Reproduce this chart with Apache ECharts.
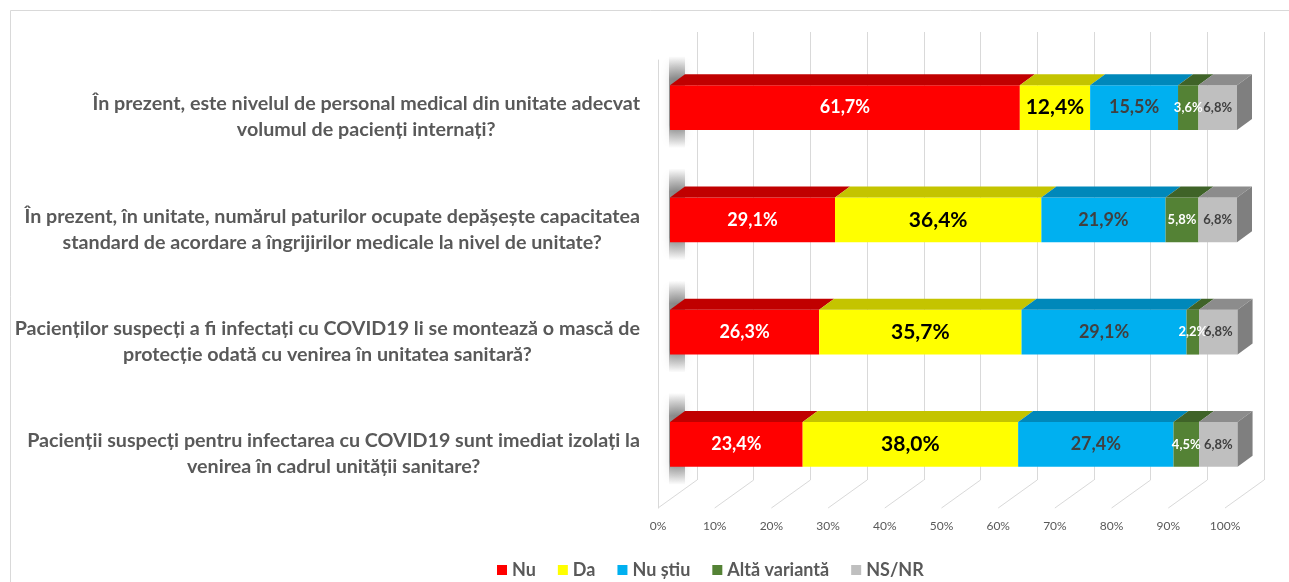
<!DOCTYPE html>
<html>
<head>
<meta charset="utf-8">
<script src="https://cdn.jsdelivr.net/npm/echarts@6/dist/echarts.min.js"></script>
<style>
  html, body { margin: 0; padding: 0; background: #fff; }
  #chart { width: 1289px; height: 582px; }
</style>
</head>
<body>
<div id="chart"></div>
<script>
// intrebari (categorii), de sus in jos
const categories = [
  'În prezent, este nivelul de personal medical din unitate adecvat\nvolumul de pacienți internați?',
  'În prezent, în unitate, numărul paturilor ocupate depășește capacitatea\nstandard de acordare a îngrijirilor medicale la nivel de unitate?',
  'Pacienților suspecți a fi infectați cu COVID19 li se montează o mască de\nprotecție odată cu venirea în unitatea sanitară?',
  'Pacienții suspecți pentru infectarea cu COVID19 sunt imediat izolați la\nvenirea în cadrul unității sanitare?'
];
const seriesNames = ['Nu', 'Da', 'Nu știu', 'Altă variantă', 'NS/NR'];
const nu = [61.7, 29.1, 26.3, 23.4];
const da = [12.4, 36.4, 35.7, 38.0];
const nuStiu = [15.5, 21.9, 29.1, 27.4];
const alta = [3.6, 5.8, 2.2, 4.5];
const nsnr = [6.8, 6.8, 6.8, 6.8];
const tickValues = [0, 10, 20, 30, 40, 50, 60, 70, 80, 90, 100];

const values = [nu, da, nuStiu, alta, nsnr];
const frontColors = ['#FF0000', '#FFFF00', '#00B0F0', '#548235', '#BFBFBF'];
const topColors = ['#C00000', '#C4C400', '#0088BA', '#3F6328', '#8C8C8C'];
const labelColors = ['#FFFFFF', '#000000', '#404040', '#FFFFFF', '#404040'];
const labelSizes = [18, 21, 18, 13, 13];
const DX = 15, DY = 11; // adancimea 3D a barelor
const FONT = 'Lato, "Noto Sans", sans-serif';

const chart = echarts.init(document.getElementById('chart'));

function fmt(v) {
  return v.toFixed(1).replace('.', ',') + '%';
}

const shadowFill = new echarts.graphic.LinearGradient(0, 0, 0, 1, [
  { offset: 0, color: 'rgba(0,0,0,0)' },
  { offset: 0.25, color: 'rgba(0,0,0,0.4)' },
  { offset: 0.75, color: 'rgba(0,0,0,0.4)' },
  { offset: 1, color: 'rgba(0,0,0,0)' }
]);

function makeBarRender(si) {
  return function (params, api) {
    const cat = api.value(0), s = api.value(1), e = api.value(2), v = api.value(3);
    const p0 = api.coord([s, cat]);
    const p1 = api.coord([e, cat]);
    const h = api.size([0, 1])[1] * 0.4;
    const x0 = p0[0], x1 = p1[0];
    const yT = p0[1] - h / 2, yB = p0[1] + h / 2;
    const children = [];
    if (si === 0) {
      // umbra pe peretele din stanga
      children.push({
        type: 'rect',
        shape: { x: x0 - 1, y: yT - DY - 18, width: DX + 1, height: h + DY + 36 },
        style: { fill: shadowFill, shadowBlur: 8, shadowColor: 'rgba(0,0,0,0.3)' },
        z2: 0
      });
    }
    children.push({
      type: 'rect',
      shape: { x: x0, y: yT, width: x1 - x0, height: yB - yT },
      style: { fill: frontColors[si] },
      z2: 5
    });
    children.push({
      type: 'polygon',
      shape: { points: [[x0, yT], [x0 + DX, yT - DY], [x1 + DX, yT - DY], [x1, yT]] },
      style: { fill: topColors[si] },
      z2: 5
    });
    if (si === values.length - 1) {
      children.push({
        type: 'polygon',
        shape: { points: [[x1, yT], [x1 + DX, yT - DY], [x1 + DX, yB - DY], [x1, yB]] },
        style: { fill: '#7F7F7F' },
        z2: 5
      });
    }
    children.push({
      type: 'text',
      style: {
        x: (x0 + x1) / 2, y: (yT + yB) / 2,
        text: fmt(v),
        align: 'center', verticalAlign: 'middle',
        fill: labelColors[si],
        font: 'bold ' + labelSizes[si] + 'px ' + FONT
      },
      z2: 100
    });
    return { type: 'group', children: children };
  };
}

const barSeries = values.map(function (arr, si) {
  const data = arr.map(function (v, r) {
    let start = 0;
    for (let k = 0; k < si; k++) start += values[k][r];
    return [r, start, start + v, v];
  });
  return {
    name: seriesNames[si],
    type: 'custom',
    xAxisIndex: 0,
    yAxisIndex: 0,
    itemStyle: { color: frontColors[si] },
    encode: { x: [1, 2], y: 0 },
    renderItem: makeBarRender(si),
    data: data
  };
});

// liniile diagonale ale podelei (de la marginea din fata spre peretele din spate)
const floorSeries = {
  type: 'custom',
  xAxisIndex: 1,
  yAxisIndex: 1,
  silent: true,
  renderItem: function (params, api) {
    const p = api.coord([api.value(0), 0]);
    return {
      type: 'line',
      shape: { x1: p[0], y1: p[1], x2: p[0] + 39, y2: p[1] - 28 },
      style: { stroke: '#D9D9D9', lineWidth: 1 }
    };
  },
  data: tickValues.map(function (t) { return [t]; })
};

const option = {
  backgroundColor: '#fff',
  animation: false,
  graphic: [{
    type: 'rect',
    shape: { x: 10.5, y: 10.5, width: 1300, height: 600 },
    style: { fill: 'none', stroke: '#D9D9D9', lineWidth: 1 },
    silent: true
  }],
  legend: {
    data: seriesNames,
    icon: 'rect',
    itemWidth: 10,
    itemHeight: 10,
    itemGap: 22,
    left: 492,
    top: 556,
    textStyle: { fontSize: 18, color: '#595959', fontFamily: FONT, fontWeight: 'bold' }
  },
  grid: [
    { left: 670, top: 51.5, width: 567, height: 449 },
    { left: 658, top: 60, width: 567, height: 448 },
    { left: 697, top: 32, width: 567, height: 448 }
  ],
  xAxis: [
    { gridIndex: 0, type: 'value', min: 0, max: 100, show: false },
    {
      gridIndex: 1, type: 'value', min: 0, max: 100, interval: 10,
      axisLine: { show: false }, axisTick: { show: false }, splitLine: { show: false },
      axisLabel: { formatter: '{value}%', margin: 12, color: '#595959', fontSize: 12, fontFamily: FONT }
    },
    {
      gridIndex: 2, type: 'value', min: 0, max: 100, interval: 10,
      axisLine: { show: false }, axisTick: { show: false }, axisLabel: { show: false },
      splitLine: { show: true, lineStyle: { color: '#D9D9D9', width: 1 } }
    }
  ],
  yAxis: [
    {
      gridIndex: 0, type: 'category', inverse: true, data: categories,
      axisLine: { show: false }, axisTick: { show: false }, splitLine: { show: false },
      axisLabel: {
        margin: 30,
        padding: [19, 0, 0, 0],
        formatter: function (val) {
          return val.split('\n').map(function (l) { return '{c|' + l + '}'; }).join('\n');
        },
        rich: {
          c: { align: 'center', fontSize: 19.7, fontWeight: 'bold', color: '#595959', lineHeight: 26, fontFamily: FONT }
        }
      }
    },
    {
      gridIndex: 1, type: 'value', min: 0, max: 1,
      axisLine: { show: true, lineStyle: { color: '#D9D9D9' } },
      axisTick: { show: false }, axisLabel: { show: false }, splitLine: { show: false }
    },
    { gridIndex: 2, type: 'value', show: false, splitLine: { show: false } }
  ],
  series: [floorSeries].concat(barSeries)
};

chart.setOption(option);
</script>
</body>
</html>
